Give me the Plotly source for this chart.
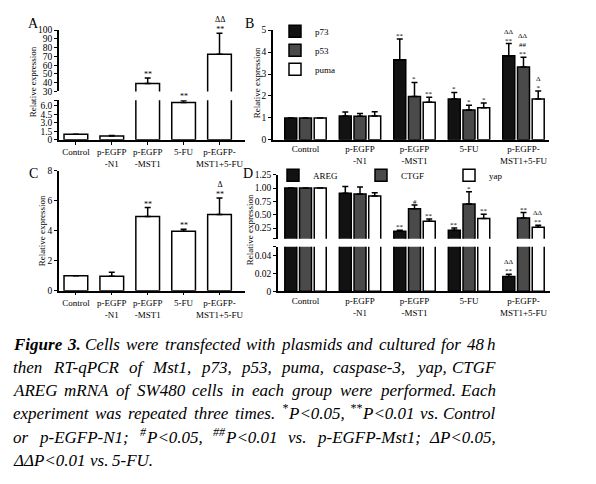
import plotly.graph_objects as go

W, H = 596, 484
FONT = "Liberation Serif, Times New Roman, serif"

groups = ["Control", "p-EGFP<br>-N1", "p-EGFP<br>-MST1", "5-FU", "p-EGFP-<br>MST1+5-FU"]

# Panel A (broken axis: 0-7 and 30-100)
a_vals = [1.0, 0.7, 39.0, 6.6, 72.5]
a_err = [0.0, 0.08, 6.5, 0.35, 24.0]
a_marks = ["", "", "**", "**", "ΔΔ<br>**"]

# Panel B
b_names = ["p73", "p53", "puma"]
b_p73 = [1.0, 1.09, 3.65, 1.86, 3.83]
b_p73_err = [0.0, 0.18, 0.95, 0.30, 0.56]
b_p53 = [1.0, 1.08, 1.98, 1.36, 3.32]
b_p53_err = [0.0, 0.12, 0.64, 0.22, 0.45]
b_puma = [1.0, 1.09, 1.71, 1.46, 1.86]
b_puma_err = [0.0, 0.19, 0.23, 0.22, 0.37]
b_p73_marks = ["", "", "**", "*", "ΔΔ<br>**"]
b_p53_marks = ["", "", "*", "*", "ΔΔ<br>##<br>**"]
b_puma_marks = ["", "", "**", "*", "Δ<br>*"]

# Panel C
c_vals = [1.0, 0.97, 4.95, 3.97, 5.08]
c_err = [0.0, 0.26, 0.6, 0.13, 1.1]
c_marks = ["", "", "**", "**", "Δ<br>**"]

# Panel D (broken axis: 0-0.05 and 0.05-1.25)
d_names = ["AREG", "CTGF", "yap"]
d_areg = [1.0, 0.90, 0.19, 0.21, 0.0165]
d_areg_err = [0.0, 0.13, 0.02, 0.04, 0.0025]
d_ctgf = [1.0, 0.89, 0.61, 0.70, 0.44]
d_ctgf_err = [0.0, 0.13, 0.07, 0.23, 0.10]
d_yap = [1.0, 0.85, 0.375, 0.43, 0.265]
d_yap_err = [0.0, 0.06, 0.045, 0.08, 0.035]
d_areg_marks = ["", "", "**", "**", "ΔΔ<br>**"]
d_ctgf_marks = ["", "", "#", "*", "**"]
d_yap_marks = ["", "", "**", "**", "ΔΔ<br>**"]

caption_lines = [
    "<b>Figure 3.</b> Cells were transfected with plasmids and cultured for 48 h",
    "then RT-qPCR of Mst1, p73, p53, puma, caspase-3, yap, CTGF",
    "AREG mRNA of SW480 cells in each group were performed. Each",
    "experiment was repeated three times. <sup>*</sup>P&lt;0.05, <sup>**</sup>P&lt;0.01 vs. Control",
    "or p-EGFP-N1; <sup>#</sup>P&lt;0.05, <sup>##</sup>P&lt;0.01 vs. p-EGFP-Mst1; ΔP&lt;0.05,",
    "ΔΔP&lt;0.01 vs. 5-FU.",
]

COLORS = ["#121212", "#4a4a4a", "#ffffff"]
BARGAP = 0.19
SLOT = (1 - BARGAP) / 3

# approximate advance widths (1/1000 em) of the serif italic face, used to justify the caption
IT_W = dict(zip("abcdefghijklmnopqrstuvwxyz",
                [500, 500, 444, 500, 444, 278, 500, 500, 278, 278, 444, 278, 722, 500, 500, 500, 500,
                 389, 389, 278, 500, 444, 667, 444, 444, 389]))
IT_W.update({"A": 611, "B": 611, "C": 667, "D": 722, "E": 611, "F": 611, "G": 722, "H": 722, "I": 333,
             "M": 833, "N": 667, "O": 722, "P": 611, "Q": 722, "R": 611, "S": 500, "T": 556, "U": 722,
             "W": 833, " ": 250, ",": 250, ".": 250, "-": 333, ";": 333, "<": 675, "#": 500, "*": 500,
             "Δ": 611})
for d in "0123456789":
    IT_W[d] = 500
BI_W = {"F": 667, "i": 278, "g": 500, "u": 556, "r": 389, "e": 444, "3": 500, ".": 250, " ": 250}


def pxx(a, b):
    return [a / W, b / W]


def pxy(top, bottom):
    return [1 - bottom / H, 1 - top / H]


def err(arr):
    return dict(type="data", symmetric=False, array=arr, arrayminus=[0] * len(arr),
                color="black", thickness=1.5, width=3)


def bar(y, e, color, xa, ya, name=None, legend=None, showlegend=False):
    return go.Bar(x=groups, y=y, xaxis=xa, yaxis=ya, name=name,
                  marker=dict(color=color, line=dict(color="black", width=1.5)),
                  error_y=err(e), showlegend=showlegend, legend=legend)


fig = go.Figure()
# A
fig.add_trace(bar(a_vals, a_err, "white", "x", "y"))
fig.add_trace(bar(a_vals, a_err, "white", "x", "y2"))
# B
for nm, v, e, c in zip(b_names, [b_p73, b_p53, b_puma], [b_p73_err, b_p53_err, b_puma_err], COLORS):
    fig.add_trace(bar(v, e, c, "x3", "y3", name=nm, legend="legend", showlegend=True))
# C
fig.add_trace(bar(c_vals, c_err, "white", "x4", "y4"))
# D
for nm, v, e, c in zip(d_names, [d_areg, d_ctgf, d_yap], [d_areg_err, d_ctgf_err, d_yap_err], COLORS):
    fig.add_trace(bar(v, e, c, "x5", "y5", name=nm, legend="legend2", showlegend=True))
    fig.add_trace(bar(v, e, c, "x5", "y6"))

tickfont = dict(family=FONT, size=9, color="black")
base = dict(showline=True, linecolor="black", linewidth=1.5, showgrid=False, zeroline=False,
            ticks="outside", ticklen=3, tickwidth=1.2, tickcolor="black", tickfont=tickfont,
            fixedrange=True)
ytickfont = dict(family=FONT, size=9.5, color="black")


def cap(val):
    # small end tick marking an axis break
    return dict(tickmode="array", tickvals=[val], ticks="outside", ticklen=3, tickwidth=1.2,
                tickcolor="black", showgrid=False)


layout_axes = dict(
    xaxis=dict(base, domain=pxx(59, 245), range=[-0.47, 4.71], anchor="y", type="category"),
    yaxis=dict(base, domain=pxy(97.2, 137.7), range=[0, 7], anchor="x", tickfont=ytickfont,
               tickvals=[0, 1.5, 3, 4.5, 6], ticktext=["0", "1.5", "3.0", "4.5", "6.0"], minor=cap(7)),
    yaxis2=dict(base, domain=pxy(25.7, 88.3), range=[30, 100], anchor="x", tickfont=ytickfont,
                tickvals=list(range(30, 101, 10))),
    xaxis3=dict(base, domain=pxx(273, 549), range=[-0.596, 4.468], anchor="y3", type="category", ticks=""),
    yaxis3=dict(base, domain=pxy(25.7, 137.7), range=[0, 5], anchor="x3", dtick=1, tickfont=ytickfont),
    xaxis4=dict(base, domain=pxx(59, 245), range=[-0.47, 4.71], anchor="y4", type="category"),
    yaxis4=dict(base, domain=pxy(169.3, 291.7), range=[0, 8], anchor="x4", dtick=2, tickfont=ytickfont),
    xaxis5=dict(base, domain=pxx(278, 550), range=[-0.505, 4.486], anchor="y5", type="category", ticks=""),
    yaxis5=dict(base, domain=pxy(246.8, 292.3), range=[0, 0.05], anchor="x5", tickfont=ytickfont,
                tickvals=[0, 0.02, 0.04], ticktext=["0", "0.02", "0.04"], minor=cap(0.05)),
    yaxis6=dict(base, domain=pxy(173.3, 238.6), range=[0.05, 1.25], anchor="x5", tickfont=ytickfont,
                tickvals=[0.25, 0.5, 0.75, 1.0, 1.25],
                ticktext=["0.25", "0.50", "0.75", "1.00", "1.25"], minor=cap(0.05)),
)

ann = []


def add_marks(vals, errs, marks, xref, yref_fn, offset=0.0, size=7):
    for i, (v, e, m) in enumerate(zip(vals, errs, marks)):
        if m:
            ann.append(dict(x=i + offset, y=v + e, xref=xref, yref=yref_fn(v), text=m,
                            showarrow=False, yanchor="bottom", yshift=-3,
                            font=dict(family=FONT, size=size, color="black")))


add_marks(a_vals, a_err, a_marks, "x", lambda v: "y2" if v > 30 else "y", size=8)
for j, (v, e, m) in enumerate(zip([b_p73, b_p53, b_puma], [b_p73_err, b_p53_err, b_puma_err],
                                  [b_p73_marks, b_p53_marks, b_puma_marks])):
    add_marks(v, e, m, "x3", lambda val: "y3", (j - 1) * SLOT)
add_marks(c_vals, c_err, c_marks, "x4", lambda v: "y4", size=8)
for j, (v, e, m) in enumerate(zip([d_areg, d_ctgf, d_yap], [d_areg_err, d_ctgf_err, d_yap_err],
                                  [d_areg_marks, d_ctgf_marks, d_yap_marks])):
    add_marks(v, e, m, "x5", lambda val: "y6" if val > 0.05 else "y5", (j - 1) * SLOT)

# panel letters
for letter, (px, py) in zip("ABCD", [(33, 19), (249, 19), (33, 172), (248, 172)]):
    ann.append(dict(x=px / W, y=1 - py / H, xref="paper", yref="paper", text=letter, showarrow=False,
                    font=dict(family=FONT, size=14, color="black"), xanchor="center", yanchor="middle"))

# y axis titles
for (px, py) in [(33, 79), (257, 80), (42, 231), (250, 230)]:
    ann.append(dict(x=px / W, y=1 - py / H, xref="paper", yref="paper", text="Relative expression",
                    showarrow=False, textangle=-90, font=dict(family=FONT, size=9, color="black"),
                    xanchor="center", yanchor="middle"))


# caption (justified word by word)
def parse(line):
    chars = []
    bold = sup = False
    i = 0
    while i < len(line):
        if line.startswith("<b>", i):
            bold = True; i += 3; continue
        if line.startswith("</b>", i):
            bold = False; i += 4; continue
        if line.startswith("<sup>", i):
            sup = True; i += 5; continue
        if line.startswith("</sup>", i):
            sup = False; i += 6; continue
        if line.startswith("&lt;", i):
            chars.append(("<", bold, sup)); i += 4; continue
        chars.append((line[i], bold, sup)); i += 1
    words, cur = [], []
    for ch in chars:
        if ch[0] == " " and not ch[2]:
            if cur:
                words.append(cur)
            cur = []
        else:
            cur.append(ch)
    if cur:
        words.append(cur)
    return words


def word_markup(word):
    out = ""
    for c, b, s in word:
        t = "&lt;" if c == "<" else c
        if b:
            t = "<b>" + t + "</b>"
        out += t
    return "<i>" + out + "</i>"


CAP_SIZE = 17
SUP_SIZE = round(CAP_SIZE * 0.7, 1)
LEFT, RIGHT = 12, 497


def word_width(word):
    w = 0
    for c, b, s in word:
        cw = BI_W.get(c, IT_W.get(c, 500)) if b else IT_W.get(c, 500)
        w += cw * (0.7 if s else 1.0)
    return w * CAP_SIZE / 1000.0


def text_ann(x, y, text, size, xanchor="left", yshift=0):
    return dict(x=x / W, y=y, xref="paper", yref="paper", text=text, showarrow=False,
                xanchor=xanchor, yanchor="bottom", borderpad=0, yshift=yshift,
                font=dict(family=FONT, size=size, color="black"))


for k, line in enumerate(caption_lines):
    words = parse(line)
    widths = [word_width(w) for w in words]
    last = k == len(caption_lines) - 1
    gap = 250 * CAP_SIZE / 1000.0 if last else (RIGHT - LEFT - sum(widths)) / (len(words) - 1)
    ybot = 1 - (347 + k * 23.6 + 10.5) / H
    xpos = LEFT
    for n, (wd, ww) in enumerate(zip(words, widths)):
        if not last and n == len(words) - 1:
            ann.append(text_ann(RIGHT, ybot, word_markup(wd), CAP_SIZE, xanchor="right"))
        else:
            sup_part = [ch for ch in wd if ch[2]]
            main_part = [ch for ch in wd if not ch[2]]
            x0 = xpos
            if sup_part:
                ann.append(text_ann(x0, ybot, word_markup(sup_part), SUP_SIZE, yshift=8))
                x0 += word_width(sup_part)
            ann.append(text_ann(x0, ybot, word_markup(main_part), CAP_SIZE))
        xpos += ww + gap

fig.update_layout(
    width=W, height=H, margin=dict(l=0, r=0, t=0, b=0, pad=0),
    paper_bgcolor="white", plot_bgcolor="white",
    barmode="group", bargap=BARGAP, bargroupgap=0.185,
    font=dict(family=FONT, size=9, color="black"),
    annotations=ann,
    legend=dict(x=275 / W, y=1 - 12 / H, xanchor="left", yanchor="top", bgcolor="rgba(0,0,0,0)",
                font=dict(family=FONT, size=9, color="black"), itemwidth=30, tracegroupgap=0),
    legend2=dict(orientation="h", x=273 / W, y=1 - 159 / H, xanchor="left", yanchor="top",
                 bgcolor="rgba(0,0,0,0)", font=dict(family=FONT, size=9, color="black"),
                 itemwidth=30, entrywidth=43, entrywidthmode="pixels"),
    **layout_axes,
)

fig.write_html("out.html", config={"displayModeBar": False},
               post_script="document.body.style.margin='0';")
